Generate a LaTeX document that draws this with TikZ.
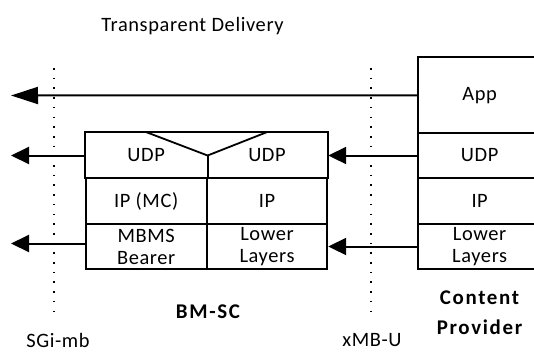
\documentclass[tikz,border=0pt]{standalone}
\usepackage{fontspec}
\setmainfont{Carlito}[LetterSpace=3]
\newfontfamily\boldlbl{Carlito}[LetterSpace=8]
\usetikzlibrary{arrows.meta}
\begin{document}
\begin{tikzpicture}[x=1bp,y=-1bp,
  cell/.style={draw, line width=1.8bp, inner sep=0pt, align=center, font=\fontsize{20.5}{22}\selectfont},
  cellnd/.style={cell, draw=none},
  bline/.style={line width=1.8bp, line join=miter},
  lbl/.style={inner sep=0pt, align=center, font=\fontsize{20.5}{24}\selectfont},
  blbl/.style={inner sep=0pt, align=center, font=\boldlbl\fontsize{21}{30}\selectfont\bfseries},
  flow/.style={line width=2bp, -{Triangle[length=18bp,width=17bp]}},
  bigflow/.style={line width=2bp, -{Triangle[length=27bp,width=17bp]}},
  ifline/.style={line width=1.6bp, dash pattern=on 1.6bp off 8.1bp},
]
\useasboundingbox (0,0) rectangle (534,352);

% title
\node[lbl] (title) at (192.5,26) {Transparent Delivery};

% interface lines
\coordinate (sgT) at (54,68);
\coordinate (sgB) at (54,319);
\coordinate (xmT) at (370.7,68);
\coordinate (xmB) at (370.7,319);
\draw[ifline] (sgT) -- (sgB);
\draw[ifline] (xmT) -- (xmB);

% BM-SC stack
\node[cellnd, minimum width=121bp, minimum height=45bp] (udpL) at (146.2,155.5) {UDP};
\node[cellnd, minimum width=120.6bp, minimum height=45bp] (udpR) at (267,155.5) {UDP};
\node[cell, minimum width=121bp, minimum height=46bp] (ipL) at (146.2,201) {IP (MC)};
\node[cell, minimum width=120.6bp, minimum height=46bp] (ipR) at (267,201) {IP};
\node[cell, minimum width=121bp, minimum height=45bp] (mbL) at (146.2,246.5) {MBMS\\Bearer};
\node[cell, minimum width=120.6bp, minimum height=45bp] (llR) at (267,246.5) {Lower\\Layers};
\draw[bline] (udpL.south west) -- (udpL.north west) -- (udpR.north east) -- (udpR.south east);
\draw[bline] (udpL.north) -- (udpL.east) -- (udpR.north);
\draw[bline] (udpL.east) -- (udpL.south east);

% Content provider stack
\node[cell, minimum width=122.7bp, minimum height=76bp] (app) at (479.65,95.3) {App};
\node[cell, minimum width=122.7bp, minimum height=45bp] (udpC) at (479.65,155.5) {UDP};
\node[cell, minimum width=122.7bp, minimum height=46bp] (ipC) at (479.65,201) {IP};
\node[cell, minimum width=122.7bp, minimum height=45bp] (llC) at (479.65,246.5) {Lower\\Layers};

% arrows
\coordinate (t1) at (11,95.5);
\coordinate (t2) at (11,155.5);
\coordinate (t3) at (11,243.5);
\draw[bigflow] (app.west) -- (t1);
\draw[flow] (udpL.west) -- (t2);
\draw[flow] (mbL.west |- t3) -- (t3);
\draw[flow] (udpC.west) -- (udpR.east);
\draw[flow] (llC.west) -- (llR.east);

% labels
\node[blbl] (bmsc) at (208,312) {BM-SC};
\node[blbl] (cp) at (479.5,312.5) {Content\\Provider};
\node[lbl] (sgi) at (58,340) {SGi-mb};
\node[lbl] (xmb) at (372,340) {xMB-U};
\end{tikzpicture}
\end{document}
